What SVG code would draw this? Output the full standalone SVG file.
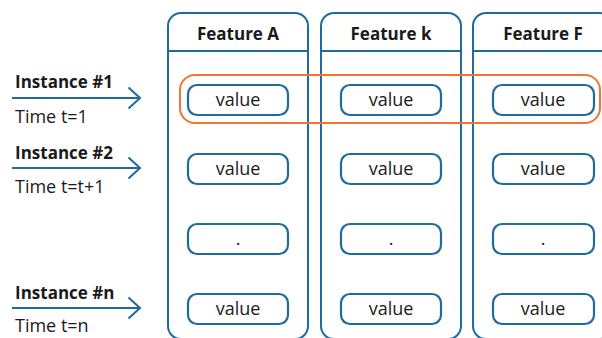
<svg xmlns="http://www.w3.org/2000/svg" width="602" height="338" viewBox="0 0 602 338">
<defs>
<style>
.col{fill:none;stroke:#1f6b9c;stroke-width:2}
.val{fill:#fff;stroke:#1f6b9c;stroke-width:2.2}
.vt{font-family:"Open Sans","Liberation Sans",sans-serif;font-size:18px;fill:#1a1a1a;text-anchor:middle}
.hd{font-family:"Open Sans","Liberation Sans",sans-serif;font-size:17px;font-weight:bold;fill:#1a1a1a;text-anchor:middle}
.in{font-family:"Open Sans","Liberation Sans",sans-serif;font-size:17px;font-weight:bold;fill:#1a1a1a}
.tm{font-family:"Open Sans","Liberation Sans",sans-serif;font-size:18px;fill:#1a1a1a}
.arr{fill:none;stroke:#1f6b9c;stroke-width:2}
</style>
</defs>
<rect width="602" height="338" fill="#fff"/>
<g id="colA">
<rect class="col" x="168" y="13" width="140" height="326" rx="13"/>
<line class="col" x1="168" y1="51" x2="308" y2="51"/>
<text class="hd" x="238" y="40">Feature A</text>
</g>
<g id="colK">
<rect class="col" x="321" y="13" width="140" height="326" rx="13"/>
<line class="col" x1="321" y1="51" x2="461" y2="51"/>
<text class="hd" x="391" y="40">Feature k</text>
</g>
<g id="colF">
<rect class="col" x="473" y="13" width="140" height="326" rx="13"/>
<line class="col" x1="473" y1="51" x2="613" y2="51"/>
<text class="hd" x="543" y="40">Feature F</text>
</g>
<g id="highlight">
<rect x="180" y="75" width="420" height="48" rx="15" fill="none" stroke="#f07432" stroke-width="2"/>
</g>
<g id="values">
<g id="a1"><rect class="val" x="188" y="85" width="100" height="30" rx="9"/><text class="vt" x="238" y="106">value</text></g>
<g id="k1"><rect class="val" x="341" y="85" width="100" height="30" rx="9"/><text class="vt" x="391" y="106">value</text></g>
<g id="f1"><rect class="val" x="493" y="85" width="101" height="30" rx="9"/><text class="vt" x="543" y="106">value</text></g>
<g id="a2"><rect class="val" x="188" y="154" width="100" height="30" rx="9"/><text class="vt" x="238" y="175">value</text></g>
<g id="k2"><rect class="val" x="341" y="154" width="100" height="30" rx="9"/><text class="vt" x="391" y="175">value</text></g>
<g id="f2"><rect class="val" x="493" y="154" width="101" height="30" rx="9"/><text class="vt" x="543" y="175">value</text></g>
<g id="a3"><rect class="val" x="188" y="224" width="100" height="30" rx="9"/><text class="vt" x="238" y="245">.</text></g>
<g id="k3"><rect class="val" x="341" y="224" width="100" height="30" rx="9"/><text class="vt" x="391" y="245">.</text></g>
<g id="f3"><rect class="val" x="493" y="224" width="101" height="30" rx="9"/><text class="vt" x="543" y="245">.</text></g>
<g id="a4"><rect class="val" x="188" y="294" width="100" height="30" rx="9"/><text class="vt" x="238" y="315">value</text></g>
<g id="k4"><rect class="val" x="341" y="294" width="100" height="30" rx="9"/><text class="vt" x="391" y="315">value</text></g>
<g id="f4"><rect class="val" x="493" y="294" width="101" height="30" rx="9"/><text class="vt" x="543" y="315">value</text></g>
</g>
<g id="inst1">
<text class="in" x="15" y="88">Instance #1</text>
<text class="tm" x="15" y="123">Time t=1</text>
</g>
<g id="inst2">
<text class="in" x="15" y="159">Instance #2</text>
<text class="tm" x="15" y="193">Time t=t+1</text>
</g>
<g id="instn">
<text class="in" x="15" y="299">Instance #n</text>
<text class="tm" x="15" y="332">Time t=n</text>
</g>
<g id="connectors">
<path class="arr" d="M12,98 H140 M128.5,87.5 L140,98 L128.5,108.5"/>
<path class="arr" d="M12,168 H140 M128.5,157.5 L140,168 L128.5,178.5"/>
<path class="arr" d="M12,308 H140 M128.5,297.5 L140,308 L128.5,318.5"/>
</g>
</svg>
